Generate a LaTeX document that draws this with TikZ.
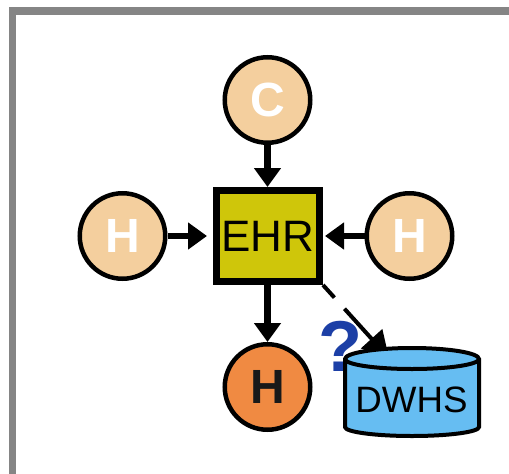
\documentclass[tikz,border=0pt]{standalone}
\usepackage{fontspec}
\setmainfont{Liberation Sans}
\usetikzlibrary{arrows.meta}
\definecolor{peach}{HTML}{F4CF9E}
\definecolor{orng}{HTML}{F08A42}
\definecolor{olive}{HTML}{CFC60A}
\definecolor{sky}{HTML}{66BDF2}
\definecolor{framegray}{HTML}{858585}
\definecolor{qblue}{HTML}{1C3FA6}
\tikzset{
  x=1pt,y=-1pt,
  person/.style={circle,draw=black,line width=4.5pt,minimum size=85.5pt,inner sep=0pt,font=\fontsize{48}{48}\selectfont\bfseries},
  peachp/.style={person,fill=peach,text=white},
  orngp/.style={person,fill=orng,text=black!90},
  link/.style={line width=6.5pt,black,-{Triangle[length=19pt,width=26pt]}},
  query/.style={line width=4pt,black,dash pattern=on 17pt off 15pt on 60pt,-{Triangle[length=26pt,width=28pt]}}
}
\begin{document}
\begin{tikzpicture}
\useasboundingbox (0,0) rectangle (509,474);
\fill[white] (0,0) rectangle (509,474);
\draw[framegray,line width=7.5pt] (12.5,474) -- (12.5,11) -- (509,11);
\node[peachp] (c) at (267.5,100) {C};
\node[peachp] (hl) at (122.5,236) {H};
\node[peachp] (hr) at (409.5,236) {H};
\node[orngp] (hb) at (267.5,387) {H};
\node[draw=black,fill=olive,line width=7pt,minimum width=103pt,minimum height=91pt,inner sep=0pt,font=\fontsize{44}{44}\selectfont,text=black] (ehr) at (268,236) {EHR};
\coordinate (dwtop) at (389,358);
\draw[link] (c.south) -- (c.south |- ehr.north);
\draw[link] (hl.east) -- ([xshift=-6pt]ehr.west);
\draw[link] (hr.west) -- ([xshift=2pt]ehr.east);
\draw[link] (hb.north |- ehr.south) -- (hb.north);
\draw[query] (ehr.south east) -- (dwtop);
\node[text=qblue,font=\fontsize{72}{72}\selectfont\bfseries,inner sep=0pt] (q) at (340,346) {?};
\draw[black,line width=4pt,fill=sky] (345,359) arc[start angle=180,end angle=360,x radius=67,y radius=11] -- (479,427) arc[start angle=0,end angle=180,x radius=67,y radius=9] -- cycle;
\draw[black,line width=4pt] (345,359) arc[start angle=180,end angle=0,x radius=67,y radius=10];
\node[font=\fontsize{36.7}{37}\selectfont,text=black,inner sep=0pt] (dw) at (411.5,400) {DWHS};
\end{tikzpicture}
\end{document}
